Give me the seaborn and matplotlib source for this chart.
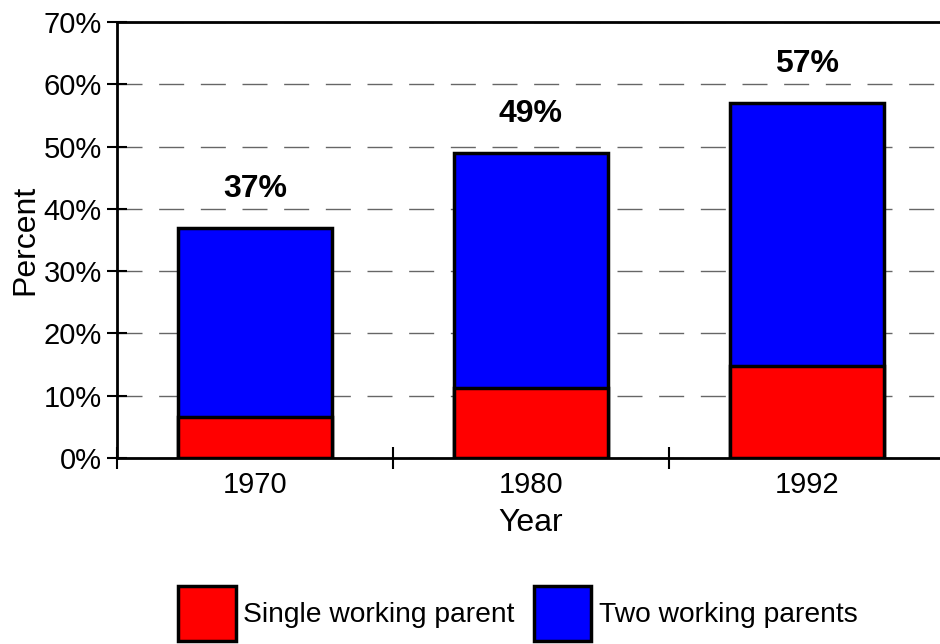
import matplotlib
matplotlib.use("Agg")
import matplotlib.pyplot as plt
import seaborn as sns
import pandas as pd
from matplotlib.ticker import FixedLocator, PercentFormatter
from matplotlib.patches import Patch

# data
years = ["1970", "1980", "1992"]
single_parent = [6.6, 11.3, 14.7]
total_working = [37, 49, 57]
series_names = ["Single working parent", "Two working parents"]

df = pd.DataFrame({"year": years, "single": single_parent, "total": total_working})

sns.set_style("white")
plt.rcParams["font.family"] = ["Liberation Sans", "DejaVu Sans"]
plt.rcParams["text.color"] = "black"
plt.rcParams["axes.labelcolor"] = "black"
plt.rcParams["xtick.color"] = "black"
plt.rcParams["ytick.color"] = "black"

fig = plt.figure(figsize=(9.4, 6.44), dpi=100)
ax = fig.add_axes([0.1245, 0.2888, 0.8805, 0.677])

# blue bar drawn at full height, red segment drawn over its lower part
sns.barplot(data=df, x="year", y="total", color="#0000ff", edgecolor="black",
            linewidth=2.5, width=0.56, saturation=1, ax=ax, zorder=3)
sns.barplot(data=df, x="year", y="single", color="#ff0000", edgecolor="black",
            linewidth=2.5, width=0.56, saturation=1, ax=ax, zorder=4)

for i, t in enumerate(total_working):
    ax.annotate(f"{t}%", xy=(i, t), xytext=(0, 17), textcoords="offset points",
                ha="center", va="bottom", fontsize=23, fontweight="bold")

ax.set_ylim(0, 70)
ax.set_xlim(-0.5, 2.5)
ax.yaxis.set_major_locator(FixedLocator(range(0, 71, 10)))
ax.yaxis.set_major_formatter(PercentFormatter(decimals=0))
ax.grid(axis="y", color="#666666", linestyle=(0, (18, 12)), linewidth=1.0, zorder=0)
ax.set_axisbelow(True)

ax.tick_params(axis="y", which="major", direction="inout", length=14, width=1.5,
               labelsize=21, pad=4, left=True)
ax.tick_params(axis="x", which="major", length=0, labelsize=21, pad=9)
ax.xaxis.set_minor_locator(FixedLocator([-0.5, 0.5, 1.5, 2.5]))
ax.tick_params(axis="x", which="minor", direction="inout", length=16, width=1.5, bottom=True)

ax.set_xlabel("Year", fontsize=23, labelpad=7)
ax.set_ylabel("Percent", fontsize=23, labelpad=2)

for side in ["top", "left", "bottom"]:
    ax.spines[side].set_visible(True)
    ax.spines[side].set_color("black")
    ax.spines[side].set_linewidth(2)
ax.spines["right"].set_visible(False)

handles = [Patch(facecolor="#ff0000", edgecolor="black", linewidth=2.5),
           Patch(facecolor="#0000ff", edgecolor="black", linewidth=2.5)]
fig.legend(handles, series_names, loc="center", bbox_to_anchor=(0.551, 0.047),
           ncol=2, frameon=False, fontsize=20.3, handlelength=2.05, handleheight=2.6,
           handletextpad=0.28, columnspacing=0.67, borderpad=0)

fig.savefig("out.png", dpi=100)
